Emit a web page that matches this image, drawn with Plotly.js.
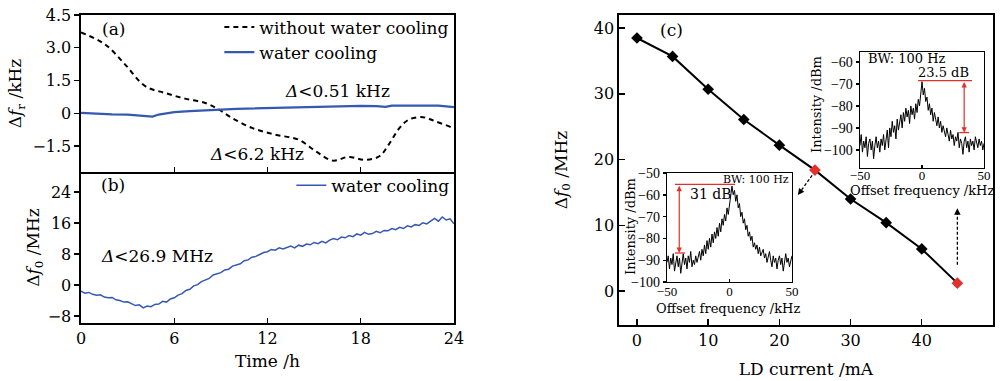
<!DOCTYPE html>
<html>
<head>
<meta charset="utf-8">
<script src="https://cdn.plot.ly/plotly-3.0.1.min.js"></script>
<style>html,body{margin:0;padding:0;background:#fff;}#chart{width:1003px;height:381px;}</style>
</head>
<body>
<div id="chart"></div>
<script>
// ---------- Data ----------
// (a) repetition-frequency drift, kHz
const timeNoCool = [0, 1.55, 2.84, 4.13, 5.4, 6.7, 8.0, 8.85, 9.7, 11.0, 12.5, 14.0, 15.1, 16.2, 17.2, 18.3, 19.2, 19.8, 20.5, 21.1, 22.0, 22.8, 23.9, 24];
const dfrNoCool = [3.7, 3.15, 2.23, 1.24, 0.93, 0.67, 0.47, 0.18, -0.21, -0.67, -0.98, -1.21, -1.74, -2.17, -2.0, -2.13, -1.97, -1.44, -0.67, -0.29, -0.18, -0.37, -0.67, -0.72];
const timeCoolA = [0, 1, 2, 3, 4, 4.6, 5, 6, 7, 8, 9, 10, 11, 12, 13, 14, 15, 16, 17, 18, 19, 19.6, 20, 21, 22, 23, 24];
const dfrCool = [0.02, -0.03, -0.05, -0.06, -0.1, -0.15, -0.06, 0.05, 0.1, 0.12, 0.17, 0.2, 0.22, 0.24, 0.26, 0.28, 0.3, 0.31, 0.33, 0.34, 0.33, 0.29, 0.35, 0.36, 0.37, 0.35, 0.28];

// (b) offset-frequency drift, MHz
const timeB = [0,0.25,0.5,0.75,1,1.25,1.5,1.75,2,2.25,2.5,2.75,3,3.25,3.5,3.75,4,4.25,4.5,4.75,5,5.25,5.5,5.75,6,6.25,6.5,6.75,7,7.25,7.5,7.75,8,8.25,8.5,8.75,9,9.25,9.5,9.75,10,10.25,10.5,10.75,11,11.25,11.5,11.75,12,12.25,12.5,12.75,13,13.25,13.5,13.75,14,14.25,14.5,14.75,15,15.25,15.5,15.75,16,16.25,16.5,16.75,17,17.25,17.5,17.75,18,18.25,18.5,18.75,19,19.25,19.5,19.75,20,20.25,20.5,20.75,21,21.25,21.5,21.75,22,22.25,22.5,22.75,23,23.25,23.5,23.75,24];
const df0Cool = [-1.6,-2.1,-1.9,-2.4,-2.6,-2.5,-3.1,-3.3,-3.2,-3.8,-4.0,-4.4,-4.3,-4.9,-5.3,-5.1,-5.9,-5.4,-5.6,-5.0,-4.9,-4.2,-4.4,-3.6,-3.3,-2.6,-2.2,-1.4,-1.1,-0.2,0.1,0.9,1.4,1.7,2.6,3.0,3.2,3.9,4.1,4.9,5.2,5.5,6.3,6.5,7.2,7.4,7.9,8.4,8.6,9.2,9.0,9.6,9.3,9.7,10.1,9.6,10.3,10.0,10.6,10.4,11.0,10.7,11.3,10.9,11.6,12.0,11.7,12.4,12.2,12.8,12.5,13.2,12.9,13.6,13.1,13.3,13.9,13.5,14.1,14.0,14.6,14.3,14.9,14.6,15.3,15.0,15.6,15.4,16.1,15.8,16.6,17.2,16.5,17.6,16.8,17.1,15.8];

// (c) offset frequency vs LD current
const ldCurrent = [0, 5, 10, 15, 20, 25, 30, 35, 40, 45];
const df0Current = [38.5, 35.7, 30.7, 26.1, 22.2, 18.4, 14.0, 10.4, 6.4, 1.2];
const highlightedCurrents = [25, 45];

// Insets: beat-note spectra
const offsetKHz = [-50,-49,-48,-47,-46,-45,-44,-43,-42,-41,-40,-39,-38,-37,-36,-35,-34,-33,-32,-31,-30,-29,-28,-27,-26,-25,-24,-23,-22,-21,-20,-19,-18,-17,-16,-15,-14,-13,-12,-11,-10,-9,-8,-7,-6,-5,-4,-3,-2,-1,0,1,2,3,4,5,6,7,8,9,10,11,12,13,14,15,16,17,18,19,20,21,22,23,24,25,26,27,28,29,30,31,32,33,34,35,36,37,38,39,40,41,42,43,44,45,46,47,48,49,50];
const spectrum45mA = [-98,-93,-101,-96,-99,-94,-103,-97,-95,-100,-96,-104,-98,-94,-99,-96,-101,-95,-98,-93,-100,-96,-91,-99,-90,-94,-87,-92,-89,-95,-86,-91,-88,-84,-90,-83,-87,-81,-85,-82,-88,-80,-84,-81,-86,-79,-83,-77,-80,-73,-69,-75,-72,-78,-76,-82,-79,-84,-81,-87,-83,-86,-89,-85,-90,-87,-92,-89,-91,-94,-90,-93,-96,-91,-95,-93,-98,-94,-96,-92,-99,-95,-97,-102,-96,-94,-99,-96,-101,-95,-98,-96,-100,-94,-97,-99,-95,-98,-96,-100,-97];
const spectrum25mA = [-91,-88,-94,-89,-92,-87,-95,-90,-88,-93,-89,-96,-91,-87,-92,-89,-94,-88,-91,-86,-93,-90,-92,-88,-91,-89,-86,-90,-85,-88,-83,-87,-81,-85,-80,-84,-78,-82,-77,-80,-75,-79,-73,-77,-71,-74,-69,-72,-66,-69,-64,-61,-56,-60,-58,-63,-60,-66,-64,-70,-68,-73,-71,-76,-74,-79,-77,-81,-79,-84,-82,-85,-83,-87,-84,-88,-86,-85,-89,-87,-91,-88,-86,-90,-93,-88,-91,-89,-94,-90,-88,-92,-89,-95,-90,-87,-91,-89,-93,-90,-88];

// ---------- Styling ----------
const FONT = 'DejaVu Serif, Liberation Serif, serif';
const IFONT = 'Liberation Serif, DejaVu Serif, serif';
const BLUE = '#3558b0';
const RED = '#e3302c';

function axis(extra) {
  return Object.assign({
    showline: true, linecolor: '#000', linewidth: 1.6, mirror: true,
    showgrid: false, zeroline: false, ticks: 'outside', ticklen: 5, tickwidth: 1.4, tickcolor: '#000',
    tickfont: {family: FONT, size: 16, color: '#000'}, automargin: false
  }, extra);
}
function title(text, size, standoff) {
  return {text: text, font: {family: FONT, size: size, color: '#000'}, standoff: standoff};
}
const insetTick = {family: IFONT, size: 14, color: '#000'};
const insetTickX = {family: IFONT, size: 13, color: '#000'};

const markerColors = ldCurrent.map(c => highlightedCurrents.includes(c) ? RED : '#000');

const traces = [
  {x: timeNoCool, y: dfrNoCool, xaxis: 'x', yaxis: 'y', mode: 'lines', name: 'without water cooling',
   line: {color: '#000', width: 2, dash: '5px,4px', shape: 'spline', smoothing: 1}, legend: 'legend'},
  {x: timeCoolA, y: dfrCool, xaxis: 'x', yaxis: 'y', mode: 'lines', name: 'water cooling',
   line: {color: BLUE, width: 2.2}, legend: 'legend'},
  {x: timeB, y: df0Cool, xaxis: 'x2', yaxis: 'y2', mode: 'lines', name: 'water cooling',
   line: {color: BLUE, width: 1.5}, legend: 'legend2'},
  {x: ldCurrent, y: df0Current, xaxis: 'x3', yaxis: 'y3', mode: 'lines+markers', showlegend: false,
   line: {color: '#000', width: 2}, marker: {symbol: 'diamond', size: 9, color: markerColors}},
  {x: offsetKHz, y: spectrum45mA, xaxis: 'x4', yaxis: 'y4', mode: 'lines', showlegend: false,
   line: {color: '#000', width: 1}},
  {x: offsetKHz, y: spectrum25mA, xaxis: 'x5', yaxis: 'y5', mode: 'lines', showlegend: false,
   line: {color: '#000', width: 1}}
];

const ann = (o) => Object.assign({showarrow: false, xanchor: 'center', yanchor: 'middle',
                                  font: {family: FONT, size: 17, color: '#000'}}, o);
const ititle = (o) => Object.assign({showarrow: false, xref: 'paper', yref: 'paper', xanchor: 'center', yanchor: 'middle',
                                     font: {family: FONT, size: 13, color: '#000'}}, o);
const px = (v) => v / 1003;
const py = (v) => 1 - v / 381;

const layout = {
  width: 1003, height: 381,
  margin: {l: 0, r: 0, t: 0, b: 0},
  paper_bgcolor: '#fff', plot_bgcolor: '#fff',
  font: {family: FONT, color: '#000'},
  // (a)
  xaxis: axis({domain: [0.0808, 0.4526], range: [0, 24], anchor: 'y', ticks: 'inside',
               tickvals: [0, 6, 12, 18, 24], showticklabels: false}),
  yaxis: axis({domain: [0.5486, 0.9606], range: [-2.69, 4.5], anchor: 'x',
               tickvals: [-1.5, 0, 1.5, 3.0, 4.5], ticktext: ['\u22121.5', '0', '1.5', '3.0', '4.5'],
               title: title('\u0394<i>f</i><sub>r</sub> /kHz', 17, 6)}),
  // (b)
  xaxis2: axis({domain: [0.0808, 0.4526], range: [0, 24], anchor: 'y2', ticks: 'inside', mirror: false,
                tickvals: [0, 6, 12, 18, 24], title: title('Time /h', 17, 8)}),
  yaxis2: axis({domain: [0.1522, 0.5486], range: [-9.8, 29.2], anchor: 'x2',
                tickvals: [-8, 0, 8, 16, 24], ticktext: ['\u22128', '0', '8', '16', '24'],
                title: title('\u0394<i>f</i><sub>0</sub> /MHz', 17, 3)}),
  // (c)
  xaxis3: axis({domain: [0.6171, 0.9900], range: [-2.53, 50], anchor: 'y3', ticks: 'inside', ticklen: 6,
                tickvals: [0, 10, 20, 30, 40, 50], title: title('LD current /mA', 17, 14)}),
  yaxis3: axis({domain: [0.1470, 0.9606], range: [-5.17, 42.0], anchor: 'x3', ticks: 'inside', ticklen: 6,
                tickvals: [0, 10, 20, 30, 40], title: title('\u0394<i>f</i><sub>0</sub> /MHz', 17, 22)}),
  // upper inset (45 mA)
  xaxis4: axis({domain: [0.8574, 0.9811], range: [-50, 50], anchor: 'y4', ticks: 'inside', ticklen: 3,
                linewidth: 1.3, tickvals: [-50, 0, 50], ticktext: ['\u221250', '0', '50'], tickfont: insetTickX,
                ticklabelstandoff: -5}),
  yaxis4: axis({domain: [0.5591, 0.8635], range: [-108.2, -55.5], anchor: 'x4', ticklen: 3,
                linewidth: 1.3, tickvals: [-100, -90, -80, -70, -60],
                ticktext: ['\u2212100', '\u221290', '\u221280', '\u221270', '\u221260'], tickfont: insetTick}),
  // lower inset (25 mA)
  xaxis5: axis({domain: [0.6650, 0.7896], range: [-50, 50], anchor: 'y5', ticks: 'inside', ticklen: 3,
                linewidth: 1.3, tickvals: [-50, 0, 50], ticktext: ['\u221250', '0', '50'], tickfont: insetTickX,
                ticklabelstandoff: -3}),
  yaxis5: axis({domain: [0.2598, 0.5459], range: [-100, -50], anchor: 'x5', ticklen: 3,
                linewidth: 1.3, tickvals: [-100, -90, -80, -70, -60, -50],
                ticktext: ['\u2212100', '\u221290', '\u221280', '\u221270', '\u221260', '\u221250'], tickfont: insetTick}),
  legend: {x: 0.4530, xanchor: 'right', y: 0.975, yanchor: 'top', bgcolor: 'rgba(0,0,0,0)',
           font: {family: FONT, size: 17, color: '#000'}, tracegroupgap: 0, itemwidth: 30},
  legend2: {x: 0.4530, xanchor: 'right', y: 0.560, yanchor: 'top', bgcolor: 'rgba(0,0,0,0)',
            font: {family: FONT, size: 17, color: '#000'}, itemwidth: 30},
  shapes: [
    // dashed pointers in (c)
    {type: 'line', xref: 'x3', yref: 'y3', x0: 24.6, y0: 17.6, x1: 23.0, y1: 15.2,
     line: {color: '#000', width: 1.3, dash: '3px,2px'}},
    {type: 'line', xref: 'x3', yref: 'y3', x0: 45, y0: 4.0, x1: 45, y1: 11.8,
     line: {color: '#000', width: 1.3, dash: '3px,2px'}},
    // red markers in upper inset
    {type: 'line', xref: 'x4', yref: 'y4', x0: -3.2, x1: 40.3, y0: -68.5, y1: -68.5, line: {color: RED, width: 1.3}},
    {type: 'line', xref: 'x4', yref: 'y4', x0: 30, x1: 38, y0: -92.1, y1: -92.1, line: {color: RED, width: 1.3}},
    // red markers in lower inset
    {type: 'line', xref: 'x5', yref: 'y5', x0: -43.6, x1: 4.4, y0: -55.2, y1: -55.2, line: {color: RED, width: 1.3}},
    {type: 'line', xref: 'x5', yref: 'y5', x0: -43.6, x1: -35.6, y0: -86.7, y1: -86.7, line: {color: RED, width: 1.3}}
  ],
  annotations: [
    ann({xref: 'x', yref: 'y', x: 2.06, y: 3.85, text: '(a)'}),
    ann({xref: 'x2', yref: 'y2', x: 2.06, y: 25.8, text: '(b)'}),
    ann({xref: 'x3', yref: 'y3', x: 4.9, y: 39.7, text: '(c)'}),
    ann({xref: 'x', yref: 'y', x: 16.5, y: 1.0, text: '<i>\u0394</i>&lt;0.51 kHz'}),
    ann({xref: 'x', yref: 'y', x: 11.3, y: -1.88, text: '<i>\u0394</i>&lt;6.2 kHz'}),
    ann({xref: 'x2', yref: 'y2', x: 4.9, y: 7.5, text: '<i>\u0394</i>&lt;26.9 MHz'}),
    // inset axis titles
    ititle({x: px(922), y: py(190), text: 'Offset frequency /kHz'}),
    ititle({x: px(817), y: py(105), text: 'Intensity /dBm', textangle: -90}),
    ititle({x: px(728), y: py(308), text: 'Offset frequency /kHz'}),
    ititle({x: px(630), y: py(227), text: 'Intensity /dBm', textangle: -90}),
    // arrow heads for dashed pointers
    {xref: 'x3', yref: 'y3', axref: 'x3', ayref: 'y3', x: 22.6, y: 14.6, ax: 23.2, ay: 15.5, text: '',
     showarrow: true, arrowhead: 2, arrowsize: 1, arrowwidth: 1.3, arrowcolor: '#000'},
    {xref: 'x3', yref: 'y3', axref: 'x3', ayref: 'y3', x: 45, y: 12.6, ax: 45, ay: 11.4, text: '',
     showarrow: true, arrowhead: 2, arrowsize: 1, arrowwidth: 1.3, arrowcolor: '#000'},
    // upper inset texts/arrows
    ann({xref: 'x4', yref: 'y4', x: -45, y: -58.6, xanchor: 'left', text: 'BW: 100 Hz', font: {family: FONT, size: 13, color: '#000'}}),
    ann({xref: 'x4', yref: 'y4', x: 17.7, y: -64.6, text: '23.5 dB', font: {family: FONT, size: 13, color: '#000'}}),
    {xref: 'x4', yref: 'y4', axref: 'x4', ayref: 'y4', x: 34, y: -92.1, ax: 34, ay: -68.5, text: '',
     showarrow: true, arrowhead: 2, startarrowhead: 2, arrowside: 'end+start', arrowsize: 0.9, arrowwidth: 1.2, arrowcolor: RED},
    // lower inset texts/arrows
    ann({xref: 'x5', yref: 'y5', x: 21.4, y: -53.0, text: 'BW: 100 Hz', font: {family: FONT, size: 11, color: '#000'}}),
    ann({xref: 'x5', yref: 'y5', x: -15, y: -59.6, text: '31 dB', font: {family: FONT, size: 14, color: '#000'}}),
    {xref: 'x5', yref: 'y5', axref: 'x5', ayref: 'y5', x: -40.2, y: -86.7, ax: -40.2, ay: -55.2, text: '',
     showarrow: true, arrowhead: 2, startarrowhead: 2, arrowside: 'end+start', arrowsize: 0.9, arrowwidth: 1.2, arrowcolor: RED}
  ]
};

Plotly.newPlot('chart', traces, layout, {staticPlot: true, displayModeBar: false});
</script>
</body>
</html>
